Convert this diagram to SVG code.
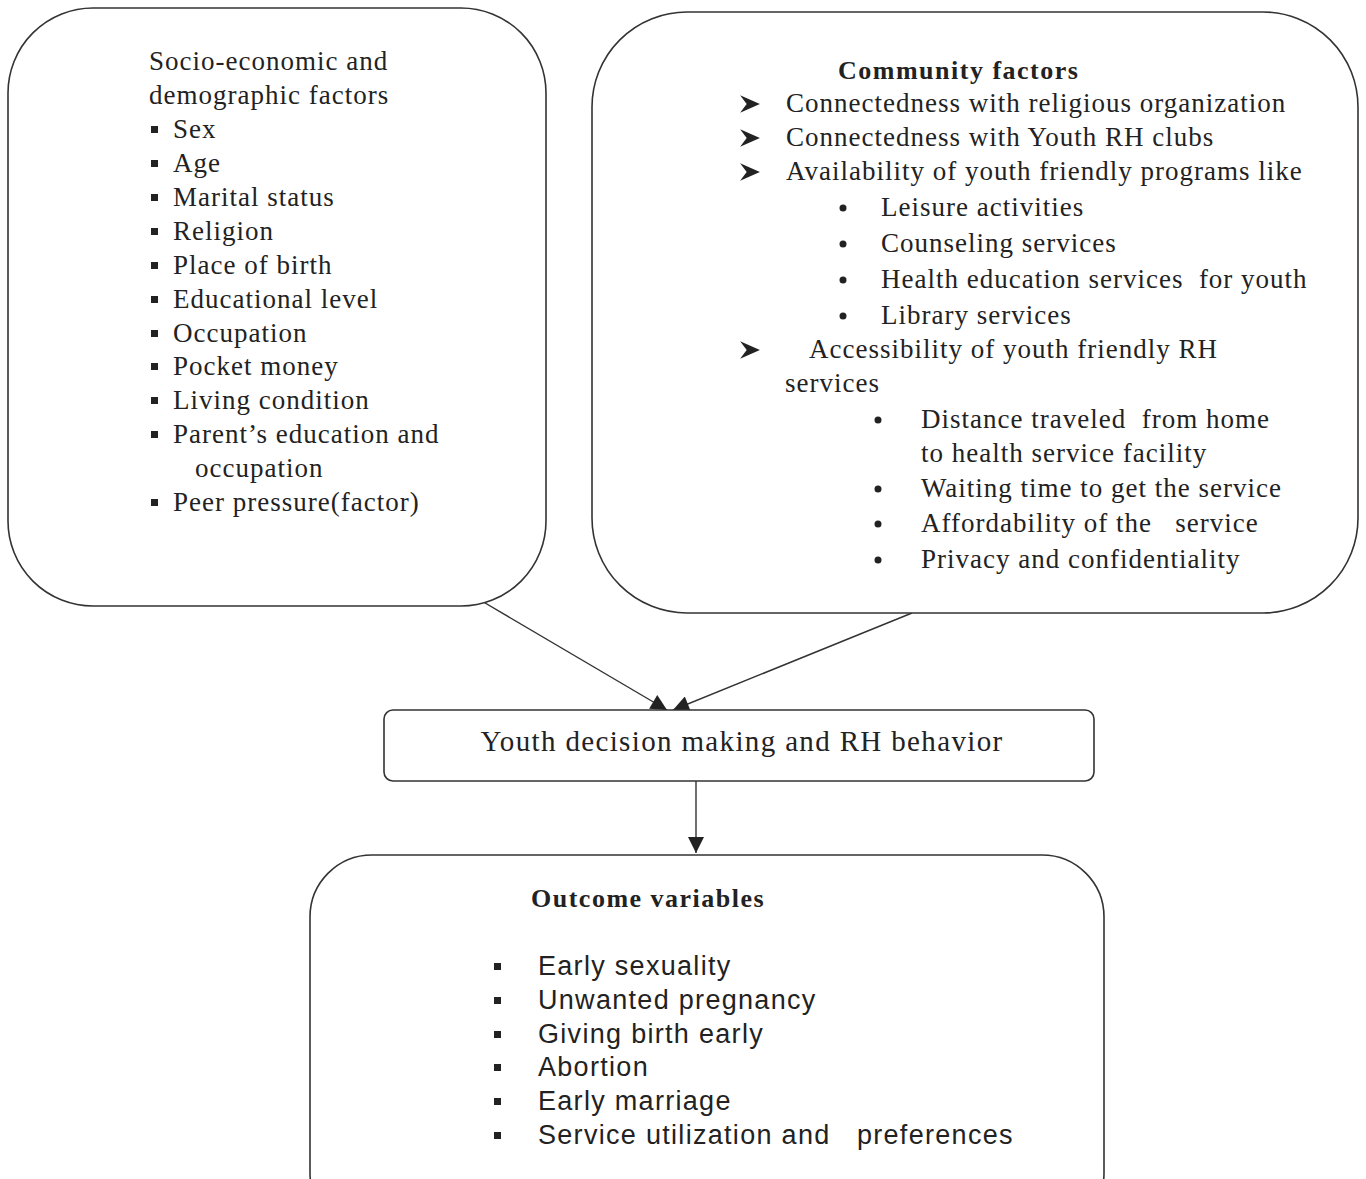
<svg xmlns="http://www.w3.org/2000/svg" width="1366" height="1179" viewBox="0 0 1366 1179">
<style>
.box{fill:#fff;stroke:#333;stroke-width:1.6}
.t{font-family:"Liberation Serif","Times New Roman",serif;font-size:27px;letter-spacing:1px;fill:#222;white-space:pre}
.b{font-weight:bold;font-size:26px;letter-spacing:1.5px}
.s{font-family:"Liberation Sans",Arial,sans-serif;font-size:27px;letter-spacing:1.3px;fill:#222;white-space:pre}
.sq{fill:#222}
.con{stroke:#333;stroke-width:1.4;fill:none}
</style>
<defs>
<marker id="ah2" viewBox="0 0 10 10" refX="10" refY="5" markerWidth="18" markerHeight="16" markerUnits="userSpaceOnUse" orient="auto">
<path d="M0,0 L10,5 L0,10 Z" fill="#222"/>
</marker>
<symbol id="arr" viewBox="0 0 20 20"><path d="M1,2 L19,10 L1,18 L7,10 Z" fill="#222"/></symbol>
</defs>
<rect width="1366" height="1179" fill="#fff"/>
<g id="connectors">
<path class="con" d="M480,600 L667,710" marker-end="url(#ah2)"/>
<path class="con" d="M912,613 L673,710" marker-end="url(#ah2)"/>
<path class="con" d="M696,781 L696,853" marker-end="url(#ah2)"/>
</g>
<g id="socio">
<rect class="box" x="8" y="8" width="538" height="598" rx="85" ry="85"/>
<text class="t" x="149" y="70">Socio-economic and</text>
<text class="t" x="149" y="104">demographic factors</text>
<g class="sq">
<rect x="151" y="126" width="7" height="7"/>
<rect x="151" y="160" width="7" height="7"/>
<rect x="151" y="194" width="7" height="7"/>
<rect x="151" y="228" width="7" height="7"/>
<rect x="151" y="262" width="7" height="7"/>
<rect x="151" y="296" width="7" height="7"/>
<rect x="151" y="330" width="7" height="7"/>
<rect x="151" y="363" width="7" height="7"/>
<rect x="151" y="397" width="7" height="7"/>
<rect x="151" y="431" width="7" height="7"/>
<rect x="151" y="499" width="7" height="7"/>
</g>
<text class="t" x="173" y="138">Sex</text>
<text class="t" x="173" y="172">Age</text>
<text class="t" x="173" y="206">Marital status</text>
<text class="t" x="173" y="240">Religion</text>
<text class="t" x="173" y="274">Place of birth</text>
<text class="t" x="173" y="308">Educational level</text>
<text class="t" x="173" y="342">Occupation</text>
<text class="t" x="173" y="375">Pocket money</text>
<text class="t" x="173" y="409">Living condition</text>
<text class="t" x="173" y="443">Parent’s education and</text>
<text class="t" x="195" y="477">occupation</text>
<text class="t" x="173" y="511">Peer pressure(factor)</text>
</g>
<g id="community">
<rect class="box" x="592" y="12" width="766" height="601" rx="95" ry="95"/>
<text class="t b" x="838" y="79">Community factors</text>
<use href="#arr" x="739" y="93" width="22" height="22"/>
<use href="#arr" x="739" y="127" width="22" height="22"/>
<use href="#arr" x="739" y="161" width="22" height="22"/>
<use href="#arr" x="739" y="339" width="22" height="22"/>
<text class="t" x="786" y="112">Connectedness with religious organization</text>
<text class="t" x="786" y="146">Connectedness with Youth RH clubs</text>
<text class="t" x="786" y="180">Availability of youth friendly programs like</text>
<g class="sq">
<circle cx="843" cy="208" r="3.5"/>
<circle cx="843" cy="244" r="3.5"/>
<circle cx="843" cy="280" r="3.5"/>
<circle cx="843" cy="316" r="3.5"/>
<circle cx="878" cy="420" r="3.5"/>
<circle cx="878" cy="489" r="3.5"/>
<circle cx="878" cy="524" r="3.5"/>
<circle cx="878" cy="560" r="3.5"/>
</g>
<text class="t" x="881" y="216">Leisure activities</text>
<text class="t" x="881" y="252">Counseling services</text>
<text class="t" x="881" y="288">Health education services  for youth</text>
<text class="t" x="881" y="324">Library services</text>
<text class="t" x="809" y="358">Accessibility of youth friendly RH</text>
<text class="t" x="785" y="392">services</text>
<text class="t" x="921" y="428">Distance traveled  from home</text>
<text class="t" x="921" y="462">to health service facility</text>
<text class="t" x="921" y="497">Waiting time to get the service</text>
<text class="t" x="921" y="532">Affordability of the   service</text>
<text class="t" x="921" y="568">Privacy and confidentiality</text>
</g>
<g id="decision">
<rect class="box" x="384" y="710" width="710" height="71" rx="9" ry="9"/>
<text class="t" x="742" y="751" text-anchor="middle" style="font-size:29px;letter-spacing:1.35px">Youth decision making and RH behavior</text>
</g>
<g id="outcome">
<rect class="box" x="310" y="855" width="794" height="380" rx="62" ry="62"/>
<text class="t b" x="531" y="907">Outcome variables</text>
<g class="sq">
<rect x="494" y="963" width="7" height="7"/>
<rect x="494" y="997" width="7" height="7"/>
<rect x="494" y="1031" width="7" height="7"/>
<rect x="494" y="1064" width="7" height="7"/>
<rect x="494" y="1098" width="7" height="7"/>
<rect x="494" y="1132" width="7" height="7"/>
</g>
<text class="s" x="538" y="975">Early sexuality</text>
<text class="s" x="538" y="1009">Unwanted pregnancy</text>
<text class="s" x="538" y="1043">Giving birth early</text>
<text class="s" x="538" y="1076">Abortion</text>
<text class="s" x="538" y="1110">Early marriage</text>
<text class="s" x="538" y="1144">Service utilization and   preferences</text>
</g>
</svg>
